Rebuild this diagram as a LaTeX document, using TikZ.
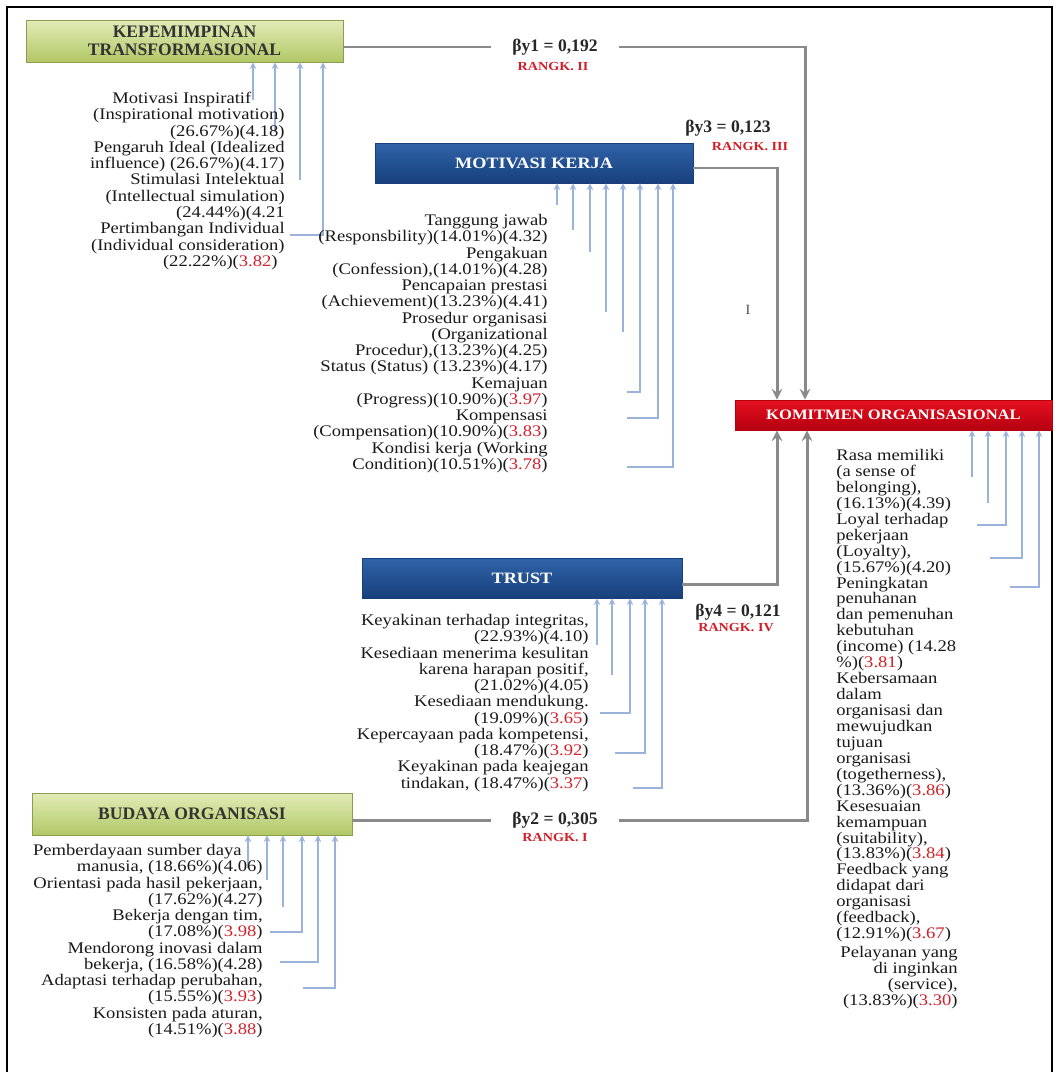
\documentclass[tikz,border=0pt]{standalone}
\usepackage{fontspec}
\setmainfont{Liberation Serif}
\newfontfamily\indfont[FakeStretch=1.15]{Liberation Serif}
\usetikzlibrary{positioning}

\definecolor{greentop}{HTML}{E2ECB8}
\definecolor{greenbot}{HTML}{B2C766}
\definecolor{greenline}{HTML}{8D9D50}
\definecolor{bluetop}{HTML}{2F63A8}
\definecolor{bluebot}{HTML}{183F7C}
\definecolor{redtop}{HTML}{E5101F}
\definecolor{redbot}{HTML}{B50010}
\definecolor{conngray}{HTML}{8A8A8A}
\definecolor{indblue}{HTML}{9BB3DA}
\definecolor{rankred}{HTML}{D0202A}

\newcommand{\rv}[1]{\textcolor{rankred}{#1}}

\begin{document}
\begin{tikzpicture}[>=stealth, x=0.02cm, y=-0.02cm,
  greenbox/.style={draw=greenline, top color=greentop, bottom color=greenbot, text=black!80,
    font=\bfseries\fontsize{10}{10.5}\selectfont, align=center, inner sep=0pt},
  bluebox/.style={draw=bluebot, top color=bluetop, bottom color=bluebot, text=white,
    font=\indfont\bfseries\fontsize{9}{10}\selectfont, inner sep=0pt},
  redbox/.style={draw=redbot, top color=redtop, bottom color=redbot, text=white,
    font=\indfont\bfseries\fontsize{8.2}{9}\selectfont, inner sep=0pt},
  conn/.style={draw=conngray, line width=1.7pt},
  ind/.style={draw=indblue, line width=0.7pt, ->},
  indtext/.style={font=\indfont\fontsize{9.2}{9.25}\selectfont, text=black!90, inner sep=0pt},
  beta/.style={font=\bfseries\fontsize{10}{11}\selectfont, text=black!85},
  rank/.style={font=\indfont\bfseries\fontsize{7}{8}\selectfont, text=rankred}]

  \useasboundingbox (0,0) rectangle (1059,1072);
  \draw[line width=0.8pt] (7,1072) -- (7,7) -- (1052,7) -- (1052,1072);

  % variables
  \node[greenbox, minimum width=6.34cm, minimum height=0.84cm] (kt)  at (184.5,41) {KEPEMIMPINAN\\TRANSFORMASIONAL};
  \node[bluebox,  minimum width=6.36cm, minimum height=0.8cm]  (mk)  at (534,163)   {MOTIVASI KERJA};
  \node[redbox,   minimum width=6.34cm, minimum height=0.6cm]  (kom) at (893.5,415) {KOMITMEN ORGANISASIONAL};
  \node[bluebox,  minimum width=6.4cm,  minimum height=0.8cm]  (tr)  at (522,578)   {TRUST};
  \node[greenbox, minimum width=6.4cm,  minimum height=0.84cm] (bo)  at (192,814)   {BUDAYA ORGANISASI};

  % paths to komitmen
  \coordinate (c1) at (805,47);
  \coordinate (c3) at (777,168);
  \coordinate (c4) at (777,584);
  \coordinate (c2) at (807,820);
  \draw[conn,->] (kt.east |- c1) -- (c1) -- (c1 |- kom.north);
  \draw[conn,->] (mk.east |- c3) -- (c3) -- (c3 |- kom.north);
  \draw[conn,->] (tr.east |- c4) -- (c4) -- (c4 |- kom.south);
  \draw[conn,->] (bo.east |- c2) -- (c2) -- (c2 |- kom.south);

  \node[beta, fill=white, inner xsep=0.42cm] (b1) at (555,47)  {βy1 = 0,192};
  \node[rank] (r1) at (553,67)  {RANGK. II};
  \node[beta] (b3) at (728,128) {βy3 = 0,123};
  \node[rank] (r3) at (750,147) {RANGK. III};
  \node[beta] (b4) at (738,612) {βy4 = 0,121};
  \node[rank] (r4) at (736,628) {RANGK. IV};
  \node[beta, fill=white, inner xsep=0.42cm] (b2) at (555,820) {βy2 = 0,305};
  \node[rank] (r2) at (555,838) {RANGK. I};
  \node[font=\fontsize{8}{9}\selectfont, text=black!70] (tick) at (748,310) {I};

  % indicators
  \foreach \s/\x/\y in {253/253/100, 275/275/132, 300/300/180, 290/323/235}{
    \coordinate (s) at (\s,\y); \coordinate (e) at (\x,\y);
    \draw[ind] (s) -- (e) -- (e |- kt.south);
  }
  \foreach \s/\x/\y in {557/557/205, 573/573/230, 590/590/252, 606/606/312, 623/623/332,
                        627/640/392, 627/658/418, 627/673/467}{
    \coordinate (s) at (\s,\y); \coordinate (e) at (\x,\y);
    \draw[ind] (s) -- (e) -- (e |- mk.south);
  }
  \foreach \s/\x/\y in {972/972/477, 988/988/503, 977/1006/525, 990/1022/558, 1010/1039/587}{
    \coordinate (s) at (\s,\y); \coordinate (e) at (\x,\y);
    \draw[ind] (s) -- (e) -- (e |- kom.south);
  }
  \foreach \s/\x/\y in {597/597/645, 612/612/675, 600/630/713, 615/645/753, 633/662/788}{
    \coordinate (s) at (\s,\y); \coordinate (e) at (\x,\y);
    \draw[ind] (s) -- (e) -- (e |- tr.south);
  }
  \foreach \s/\x/\y in {248/248/868, 267/267/880, 283/283/907, 270/302/932, 280/318/962, 303/335/988}{
    \coordinate (s) at (\s,\y); \coordinate (e) at (\x,\y);
    \draw[ind] (s) -- (e) -- (e |- bo.south);
  }

  % indicator texts
  \node[indtext, align=right, anchor=north east] (ktx) at (285,92) {Motivasi Inspiratif\hspace*{19pt}\\
    (Inspirational motivation)\hspace*{11pt}\\ (26.67\%)(4.18)\hspace*{10pt}\\ Pengaruh Ideal (Idealized\\
    influence) (26.67\%)(4.17)\\ Stimulasi Intelektual\\ (Intellectual simulation)\\
    (24.44\%)(4.21\\ Pertimbangan Individual\hspace*{4pt}\\ (Individual consideration)\hspace*{4pt}\\
    (22.22\%)(\rv{3.82})\hspace*{4pt}};
  \node[indtext, align=right, anchor=north east] (mkx) at (548,214) {Tanggung jawab\\
    (Responsbility)(14.01\%)(4.32)\\ Pengakuan\\ (Confession),(14.01\%)(4.28)\\
    Pencapaian prestasi\\ (Achievement)(13.23\%)(4.41)\\ Prosedur organisasi\\
    (Organizational\\ Procedur),(13.23\%)(4.25)\\ Status (Status) (13.23\%)(4.17)\\
    Kemajuan\\ (Progress)(10.90\%)(\rv{3.97})\\ Kompensasi\\
    (Compensation)(10.90\%)(\rv{3.83})\\ Kondisi kerja (Working\\
    Condition)(10.51\%)(\rv{3.78})};
  \node[indtext, align=right, anchor=north east] (trx) at (589,614) {Keyakinan terhadap integritas,\\
    (22.93\%)(4.10)\\ Kesediaan menerima kesulitan\\ karena harapan positif,\\
    (21.02\%)(4.05)\\ Kesediaan mendukung.\\ (19.09\%)(\rv{3.65})\\
    Kepercayaan pada kompetensi,\\ (18.47\%)(\rv{3.92})\\ Keyakinan pada keajegan\\
    tindakan, (18.47\%)(\rv{3.37})};
  \node[indtext, align=right, anchor=north east] (box) at (263,844) {Pemberdayaan sumber daya\hspace*{12pt}\\
    manusia, (18.66\%)(4.06)\hspace*{6pt}\\ Orientasi pada hasil pekerjaan,\\ (17.62\%)(4.27)\\
    Bekerja dengan tim,\\ (17.08\%)(\rv{3.98})\\ Mendorong inovasi dalam\\
    bekerja, (16.58\%)(4.28)\\ Adaptasi terhadap perubahan,\\ (15.55\%)(\rv{3.93})\\
    Konsisten pada aturan,\\ (14.51\%)(\rv{3.88})};
  \node[indtext, font=\indfont\fontsize{9.2}{9.07}\selectfont, align=left, anchor=north west] (komx) at (836,449)
    {Rasa memiliki\\ (a sense of\\ belonging),\\ (16.13\%)(4.39)\\ Loyal terhadap\\ pekerjaan\\
    (Loyalty),\\ (15.67\%)(4.20)\\ Peningkatan\\ penuhanan\\ dan pemenuhan\\ kebutuhan\\
    (income) (14.28\\ \%)(\rv{3.81})\\ Kebersamaan\\ dalam\\ organisasi dan\\ mewujudkan\\
    tujuan\\ organisasi\\ (togetherness),\\ (13.36\%)(\rv{3.86})\\ Kesesuaian\\ kemampuan\\
    (suitability),\\ (13.83\%)(\rv{3.84})\\ Feedback yang\\ didapat dari\\ organisasi\\
    (feedback),\\ (12.91\%)(\rv{3.67})};
  \coordinate (kr) at (958,0);
  \node[indtext, font=\indfont\fontsize{9.2}{9.07}\selectfont, align=right, anchor=north east,
    yshift=-2.2pt] (komy) at (komx.south -| kr)
    {Pelayanan yang\\ di inginkan\\ (service),\\ (13.83\%)(\rv{3.30})};
\end{tikzpicture}
\end{document}
